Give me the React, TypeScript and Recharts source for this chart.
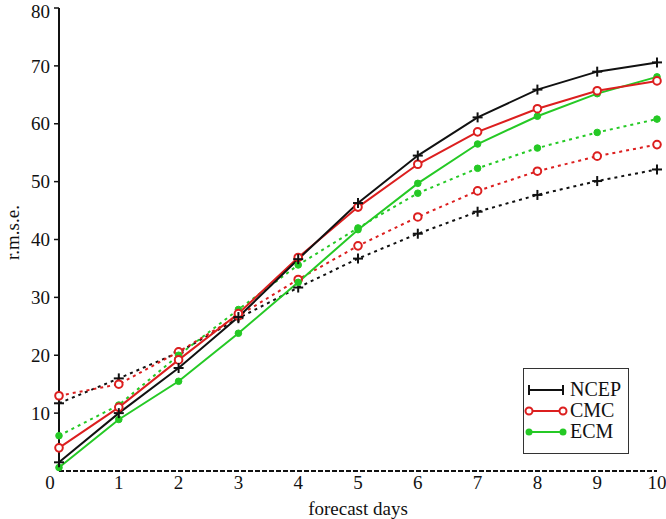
import { LineChart, Line, XAxis, YAxis, Label } from 'recharts';

const days = [0, 1, 2, 3, 4, 5, 6, 7, 8, 9, 10];
const ncep = [1.5, 10.0, 17.8, 26.6, 36.6, 46.3, 54.5, 61.1, 65.9, 69.0, 70.6];
const cmc = [4.0, 11.0, 19.2, 27.2, 36.9, 45.6, 53.0, 58.6, 62.6, 65.7, 67.4];
const ecm = [0.6, 8.9, 15.5, 23.8, 32.6, 41.7, 49.7, 56.5, 61.3, 65.2, 68.1];
const ncepDot = [11.7, 16.0, 20.5, 26.4, 31.7, 36.7, 41.0, 44.8, 47.7, 50.1, 52.1];
const cmcDot = [13.0, 15.0, 20.6, 26.8, 33.1, 38.9, 43.9, 48.4, 51.8, 54.4, 56.4];
const ecmDot = [6.1, 11.4, 20.0, 27.9, 35.6, 42.0, 48.0, 52.3, 55.8, 58.5, 60.8];
const xTicks = [0, 1, 2, 3, 4, 5, 6, 7, 8, 9, 10];
const yTicks = [10, 20, 30, 40, 50, 60, 70, 80];

const BLACK = '#111111';
const RED = '#dc1f1f';
const GREEN = '#25c925';
const FONT = '"Liberation Serif", "DejaVu Serif", serif';

const data = days.map((d, i) => ({
  day: d,
  ncep: ncep[i],
  cmc: cmc[i],
  ecm: ecm[i],
  ncepDot: ncepDot[i],
  cmcDot: cmcDot[i],
  ecmDot: ecmDot[i],
}));

const PlusDot = (props: any) => {
  const { cx, cy } = props;
  if (cx == null || cy == null) return null;
  return (
    <g>
      <line x1={cx - 5} y1={cy} x2={cx + 5} y2={cy} stroke={BLACK} strokeWidth={2} />
      <line x1={cx} y1={cy - 5} x2={cx} y2={cy + 5} stroke={BLACK} strokeWidth={2} />
    </g>
  );
};

const OpenDot = (props: any) => {
  const { cx, cy } = props;
  if (cx == null || cy == null) return null;
  return <circle cx={cx} cy={cy} r={3.8} fill="#fff" stroke={RED} strokeWidth={2} />;
};

const FilledDot = (props: any) => {
  const { cx, cy } = props;
  if (cx == null || cy == null) return null;
  return <circle cx={cx} cy={cy} r={3.3} fill={GREEN} stroke={GREEN} strokeWidth={1} />;
};

const XTick = (props: any) => {
  const { x, y, payload } = props;
  const shift = payload.value === 0 ? -9 : 0;
  return (
    <text x={x + shift} y={y} dy="0.71em" textAnchor="middle" fontSize={19} fontFamily={FONT} fill="#111">
      {payload.value}
    </text>
  );
};

const legendItems = [
  { name: 'NCEP', color: BLACK, kind: 'plus' },
  { name: 'CMC', color: RED, kind: 'open' },
  { name: 'ECM', color: GREEN, kind: 'filled' },
];

const LegendBox = () => (
  <div
    style={{
      position: 'absolute',
      left: 523,
      top: 368,
      width: 106,
      height: 86,
      border: '1.5px solid #333',
      background: '#fff',
      boxSizing: 'border-box',
      paddingTop: 10,
      fontFamily: FONT,
    }}
  >
    {legendItems.map((it) => (
      <div key={it.name} style={{ display: 'flex', alignItems: 'center', height: 21, whiteSpace: 'nowrap' }}>
        <svg width={46} height={14} style={{ display: 'block', flex: 'none' }}>
          <line x1={5} y1={7} x2={39} y2={7} stroke={it.color} strokeWidth={2} />
          {[5, 39].map((px) =>
            it.kind === 'plus' ? (
              <line key={px} x1={px} y1={2} x2={px} y2={12} stroke={BLACK} strokeWidth={2} />
            ) : it.kind === 'open' ? (
              <circle key={px} cx={px} cy={7} r={3.5} fill="#fff" stroke={RED} strokeWidth={2} />
            ) : (
              <circle key={px} cx={px} cy={7} r={3.5} fill={GREEN} />
            )
          )}
        </svg>
        <span style={{ fontSize: 20, color: '#111', lineHeight: '21px' }}>{it.name}</span>
      </div>
    ))}
  </div>
);

const YLabel = (props: any) => {
  const { viewBox } = props;
  const cx = 12;
  const cy = viewBox.y + viewBox.height / 2 - 7;
  return (
    <text x={cx} y={cy} transform={`rotate(-90 ${cx} ${cy})`} textAnchor="middle" dominantBaseline="central" fontSize={19} fontFamily={FONT} fill="#111">
      r.m.s.e.
    </text>
  );
};

const App = () => {
  return (
    <div style={{ position: 'absolute', left: 0, top: 0, width: 666, height: 519, background: '#fff' }}>
      <LineChart width={666} height={519} data={data} margin={{ top: 8, right: 9, left: 0, bottom: 0 }}>
        <XAxis
          dataKey="day"
          type="number"
          domain={[0, 10]}
          ticks={xTicks}
          height={48}
          tickSize={0}
          tickMargin={5}
          tick={<XTick />}
          axisLine={{ stroke: BLACK, strokeWidth: 2, strokeDasharray: '5 2' }}
          tickLine={false}
        >
          <Label value="forecast days" position="insideBottom" offset={4} style={{ fontSize: 19, fontFamily: FONT, fill: '#111' }} />
        </XAxis>
        <YAxis
          type="number"
          domain={[0, 80]}
          ticks={yTicks}
          width={59}
          tickSize={5}
          tickMargin={4}
          axisLine={{ stroke: BLACK, strokeWidth: 2 }}
          tickLine={{ stroke: BLACK, strokeWidth: 1.5 }}
          tick={{ fontSize: 19, fontFamily: FONT, fill: '#111' }}
        >
          <Label content={<YLabel />} />
        </YAxis>
        <Line dataKey="ncepDot" stroke={BLACK} strokeWidth={2} strokeDasharray="3 4" dot={<PlusDot />} activeDot={false} isAnimationActive={false} />
        <Line dataKey="cmcDot" stroke={RED} strokeWidth={2} strokeDasharray="3 4" dot={<OpenDot />} activeDot={false} isAnimationActive={false} />
        <Line dataKey="ecmDot" stroke={GREEN} strokeWidth={2} strokeDasharray="3 4" dot={<FilledDot />} activeDot={false} isAnimationActive={false} />
        <Line dataKey="ecm" stroke={GREEN} strokeWidth={2} dot={<FilledDot />} activeDot={false} isAnimationActive={false} name="ECM" />
        <Line dataKey="cmc" stroke={RED} strokeWidth={2} dot={<OpenDot />} activeDot={false} isAnimationActive={false} name="CMC" />
        <Line dataKey="ncep" stroke={BLACK} strokeWidth={2} dot={<PlusDot />} activeDot={false} isAnimationActive={false} name="NCEP" />
      </LineChart>
      <LegendBox />
    </div>
  );
};

export default App;
